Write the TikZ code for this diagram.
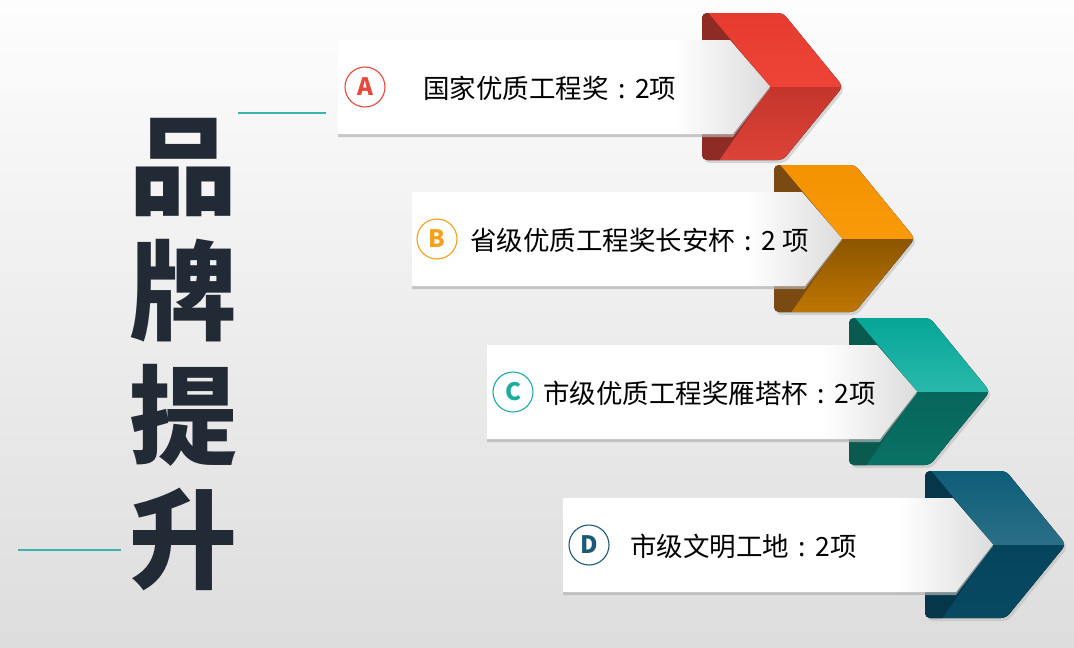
\documentclass[tikz,border=0pt]{standalone}
\usepackage{fontspec}
\newfontfamily\cjk{Noto Sans CJK SC}
\usetikzlibrary{calc}
\definecolor{bgtop}{HTML}{FDFDFD}
\definecolor{bgbot}{HTML}{DDDDDD}
\definecolor{tealline}{HTML}{3CB4AC}
\definecolor{ink}{HTML}{222A36}
\definecolor{aUT}{HTML}{E63A2E}\definecolor{aUB}{HTML}{EE4438}
\definecolor{aLT}{HTML}{C5352B}\definecolor{aLB}{HTML}{DE4439}\definecolor{aF}{HTML}{8E2B25}
\definecolor{bUT}{HTML}{F39200}\definecolor{bUB}{HTML}{FA9A0A}
\definecolor{bLT}{HTML}{8C5500}\definecolor{bLB}{HTML}{C27800}\definecolor{bF}{HTML}{7A4A12}
\definecolor{cUT}{HTML}{04A596}\definecolor{cUB}{HTML}{28B8AB}
\definecolor{cLT}{HTML}{06665C}\definecolor{cLB}{HTML}{0B7266}\definecolor{cF}{HTML}{0A5A50}
\definecolor{dUT}{HTML}{0B5C78}\definecolor{dUB}{HTML}{2B6F86}
\definecolor{dLT}{HTML}{06445C}\definecolor{dLB}{HTML}{084A63}\definecolor{dF}{HTML}{06364A}
\definecolor{circA}{HTML}{E8473B}
\definecolor{circB}{HTML}{F5A01A}
\definecolor{circC}{HTML}{1AADA0}
\definecolor{circD}{HTML}{1D5A75}
\pgfdeclarehorizontalshading{bannershade}{100bp}{color(0bp)=(white); color(64bp)=(white); color(100bp)=(black!45)}
\newcommand\colonc{\makebox[1em][c]{:}}
% #1 L, #2 T, #3 upper top, #4 upper bottom, #5 lower top, #6 lower bottom, #7 fold, #8 banner left
\newcommand\ribbonrow[8]{%
  \begin{scope}
    \fill[black!25,opacity=0.6,rounded corners=5pt] ({#1+2},{#2+3}) -- ({#1+83},{#2+3}) -- ({#1+143},{#2+76.5}) -- ({#1+83},{#2+150}) -- ({#1+2},{#2+150}) -- cycle;
  \end{scope}
  \begin{scope}
    \clip[rounded corners=5pt] (#1,#2) -- ({#1+81},#2) -- ({#1+141},{#2+73.5}) -- ({#1+81},{#2+147}) -- (#1,{#2+147}) -- cycle;
    \fill[top color=#5,bottom color=#6] ({#1-5},{#2+73.5}) rectangle ({#1+150},{#2+152});
    \fill[top color=#3,bottom color=#4] ({#1-5},{#2-5}) rectangle ({#1+150},{#2+73.5});
    \fill[#7] ({#1-5},{#2-5}) -- ({#1+2},{#2-5}) -- ({#1+68},{#2+73.5}) -- ({#1+14},{#2+152}) -- ({#1-5},{#2+152}) -- cycle;
  \end{scope}
  \fill[black!30,opacity=0.7] (#8,{#2+30}) -- ({#1+30},{#2+30}) -- ({#1+68},{#2+75}) -- ({#1+31},{#2+124}) -- (#8,{#2+124}) -- cycle;
  \shade[shading=bannershade] (#8,{#2+27}) -- ({#1+28},{#2+27}) -- ({#1+68},{#2+73.5}) -- ({#1+31},{#2+121}) -- (#8,{#2+121}) -- cycle;
}
\tikzset{
  bigchar/.style={font=\cjk\bfseries\fontsize{108}{108}\selectfont, text=ink, inner sep=0pt, anchor=center},
  itemtext/.style={font=\cjk\fontsize{26.5}{26.5}\selectfont, text=black, inner sep=0pt, anchor=west},
  badge/.style={circle, draw=#1, line width=1.1pt, fill=white, minimum size=40pt, inner sep=0pt,
    text=#1, font=\cjk\bfseries\fontsize{24}{24}\selectfont},
  accent/.style={draw=tealline, line width=1.8pt}
}
\begin{document}
\begin{tikzpicture}[x=1pt,y=-1pt]
\useasboundingbox (0,0) rectangle (1074,648);
\shade[top color=bgtop, bottom color=bgbot] (0,0) rectangle (1074,648);

% accent lines
\coordinate (l1a) at (238,113); \coordinate (l1b) at (326,113);
\coordinate (l2a) at (18,550); \coordinate (l2b) at (121,550);
\draw[accent] (l1a) -- (l1b);
\draw[accent] (l2a) -- (l2b);

% big title
\node[bigchar] (t1) at (183,168) {品};
\node[bigchar] (t2) at (183,291) {牌};
\node[bigchar] (t3) at (183,415) {提};
\node[bigchar] (t4) at (183,539) {升};

% ribbons
\ribbonrow{702}{13}{aUT}{aUB}{aLT}{aLB}{aF}{338}
\ribbonrow{774}{165}{bUT}{bUB}{bLT}{bLB}{bF}{412}
\ribbonrow{849}{318}{cUT}{cUB}{cLT}{cLB}{cF}{487}
\ribbonrow{925}{471}{dUT}{dUB}{dLT}{dLB}{dF}{563}

% badges
\node[badge=circA] (ba) at (365,87) {A};
\node[badge=circB] (bb) at (437,239) {B};
\node[badge=circC] (bc) at (513,392) {C};
\node[badge=circD] (bd) at (589,545) {D};

% texts
\node[itemtext] (xa) at (423,88) {国家优质工程奖\colonc 2项};
\node[itemtext] (xb) at (470,240) {省级优质工程奖长安杯\colonc 2 项};
\node[itemtext] (xc) at (543,393) {市级优质工程奖雁塔杯\colonc 2项};
\node[itemtext] (xd) at (630,546) {市级文明工地\colonc 2项};
\end{tikzpicture}
\end{document}
